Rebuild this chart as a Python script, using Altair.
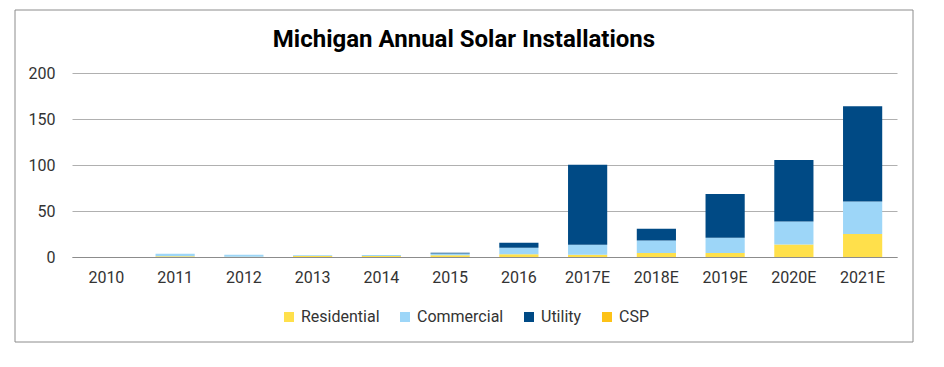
import altair as alt
import pandas as pd

years = ["2010", "2011", "2012", "2013", "2014", "2015", "2016",
         "2017E", "2018E", "2019E", "2020E", "2021E"]
residential = [0, 0.8, 0.3, 1.2, 1.2, 2.0, 3.0, 2.5, 4.3, 4.3, 13.7, 24.9]
commercial = [0, 2.7, 2.2, 0.8, 1.0, 1.8, 7.1, 10.9, 13.7, 16.7, 24.9, 35.4]
utility = [0, 0, 0, 0, 0, 0.9, 5.4, 86.9, 12.7, 47.6, 66.8, 103.5]
csp = [0] * 12

series = ["Residential", "Commercial", "Utility", "CSP"]
colors = ["#FFE04B", "#9DD6F8", "#004A85", "#FDC217"]
title_text = "Michigan Annual Solar Installations"

rows = []
for i, y in enumerate(years):
    for k, (name, vals) in enumerate(zip(series, [residential, commercial, utility, csp])):
        rows.append({"year": y, "type": name, "value": vals[i], "order": k})
df = pd.DataFrame(rows)

W, H = 825, 184

bars = alt.Chart(df).mark_bar().encode(
    x=alt.X("year:N", sort=years, title=None,
            scale=alt.Scale(paddingInner=0.43, paddingOuter=0.215),
            axis=alt.Axis(labelAngle=0, labelPadding=12, ticks=False,
                          domainColor="#8C8C8C", labelFontSize=16,
                          labelColor="#333333", labelFont="Roboto")),
    y=alt.Y("value:Q", stack="zero", title=None,
            scale=alt.Scale(domain=[0, 200], nice=False),
            axis=alt.Axis(values=[0, 50, 100, 150, 200], ticks=False, domain=False,
                          labelPadding=17, labelFontSize=16, labelColor="#333333",
                          labelFont="Roboto", gridColor="#B0B0B0")),
    color=alt.Color("type:N", sort=series,
                    scale=alt.Scale(domain=series, range=colors),
                    legend=alt.Legend(title=None, orient="none", direction="horizontal",
                                      legendX=209, legendY=236, symbolType="square",
                                      symbolSize=100, symbolStrokeWidth=0,
                                      labelFontSize=16, labelFont="Roboto",
                                      labelColor="#333333", columnPadding=17,
                                      labelOffset=4)),
    order=alt.Order("order:Q"),
)

frame = alt.Chart(alt.Data(values=[{}])).mark_rect(
    fill=None, stroke="#8C8C8C", strokeWidth=1
).encode(
    x=alt.value(-57), x2=alt.value(841), y=alt.value(-63), y2=alt.value(269)
)

title = alt.Chart(alt.Data(values=[{"t": title_text}])).mark_text(
    font="Roboto", fontSize=24, fontWeight="bold", color="#000000",
    align="center", baseline="alphabetic"
).encode(
    text="t:N", x=alt.value(392), y=alt.value(-26)
)

chart = alt.layer(frame, bars, title).properties(
    width=W, height=H,
    padding={"left": 6, "top": 1, "right": 5, "bottom": 5},
).configure_view(stroke=None)

chart.save("out.html", embed_options={"renderer": "svg", "actions": False})
